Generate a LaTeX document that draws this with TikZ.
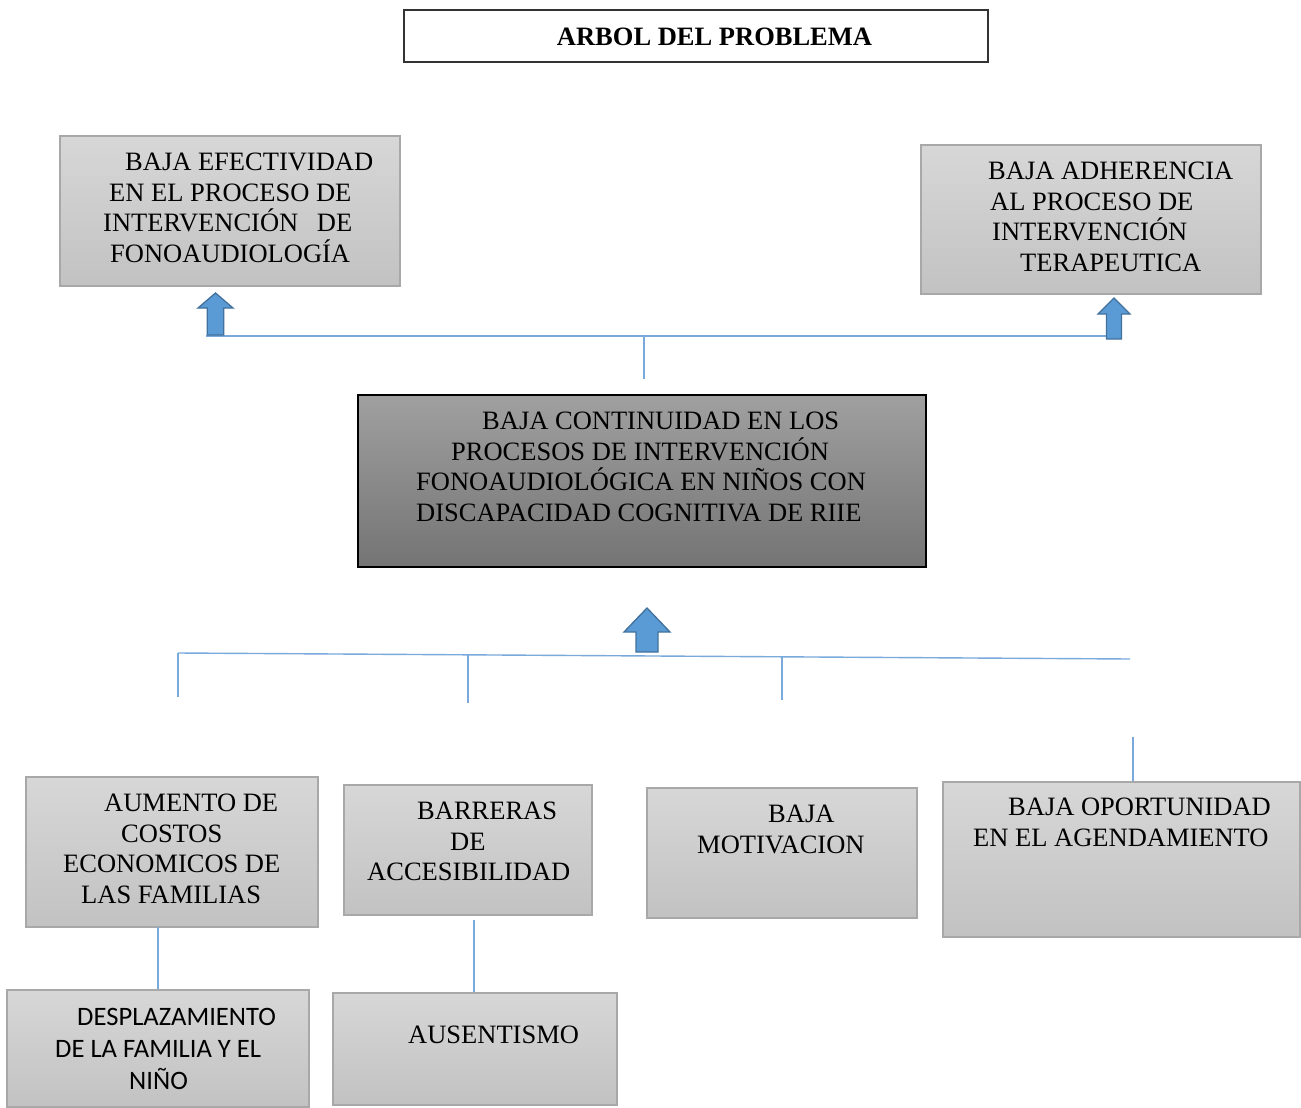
\documentclass[tikz,border=0pt]{standalone}
\usepackage{fontspec}
\setmainfont{Liberation Serif}
\newfontfamily\calib{Carlito}
\definecolor{boxtop}{HTML}{D7D7D7}
\definecolor{boxbot}{HTML}{C2C2C2}
\definecolor{boxedge}{HTML}{A8A8A8}
\definecolor{midtop}{HTML}{A0A0A0}
\definecolor{midbot}{HTML}{747474}
\definecolor{linkblue}{HTML}{7AAADC}
\definecolor{arrfill}{HTML}{5B9BD5}
\definecolor{arredge}{HTML}{41719C}
\tikzset{
  graybox/.style={draw=boxedge, line width=1.2pt, top color=boxtop, bottom color=boxbot, inner sep=0pt},
  midbox/.style={draw=black, line width=1.4pt, top color=midtop, bottom color=midbot, inner sep=0pt},
  titlebox/.style={draw=black!80, line width=1.2pt, fill=white, inner sep=0pt},
  txt/.style={inner sep=0pt, anchor=north west, align=left, font=\fontsize{26.5}{30.6}\selectfont},
  ctxt/.style={inner sep=0pt, anchor=north west, align=left, font=\calib\fontsize{26.6}{32}\selectfont},
  link/.style={draw=linkblue, line width=1.4pt},
  uparrow/.style={fill=arrfill, draw=arredge, line width=1.3pt, line join=miter}
}
\newcommand{\uparr}[5]{%
  \filldraw[uparrow] (#1,#2) -- (#1+#5,#3) -- (#1+#5/2-0.5,#3) -- (#1+#5/2-0.5,#4) -- (#1-#5/2+0.5,#4) -- (#1-#5/2+0.5,#3) -- (#1-#5,#3) -- cycle;}
\begin{document}
\begin{tikzpicture}[x=1pt,y=-1pt]
\useasboundingbox[fill=white] (0,0) rectangle (1301,1108);

% title
\node[titlebox, minimum width=584pt, minimum height=52pt] (title) at (696,36) {};
\node[inner sep=0pt, font=\bfseries\fontsize{26.5}{30}\selectfont] (titlet) at (714.5,37) {ARBOL DEL PROBLEMA};

% effects
\node[graybox, minimum width=340pt, minimum height=150pt] (e1) at (230,211) {};
\node[txt] (e1t) at (103,153) {\hspace*{22pt}BAJA EFECTIVIDAD\\\hspace*{6pt}EN EL PROCESO DE\\INTERVENCIÓN\hspace{12pt} DE\\\hspace*{7pt}FONOAUDIOLOGÍA};

\node[graybox, minimum width=340pt, minimum height=149pt] (e2) at (1091,219.5) {};
\node[txt] (e2t) at (988,162) {BAJA ADHERENCIA\\\hspace*{2pt}AL PROCESO DE\\\hspace*{4pt}INTERVENCIÓN\\\hspace*{32pt}TERAPEUTICA};

% central problem
\node[midbox, minimum width=568pt, minimum height=172pt] (mid) at (642,481) {};
\node[txt] (midt) at (416,412) {\hspace*{66pt}BAJA CONTINUIDAD EN LOS\\\hspace*{35pt}PROCESOS DE INTERVENCIÓN\\FONOAUDIOLÓGICA EN NIÑOS CON\\DISCAPACIDAD COGNITIVA DE RIIE};

% causes
\node[graybox, minimum width=292pt, minimum height=150pt] (c1) at (172,852) {};
\node[txt] (c1t) at (63,794) {\hspace*{41pt}AUMENTO DE\\\hspace*{58pt}COSTOS\\ECONOMICOS DE\\\hspace*{18pt}LAS FAMILIAS};

\node[graybox, minimum width=248pt, minimum height=130pt] (c2) at (468,850) {};
\node[txt] (c2t) at (367,802) {\hspace*{50pt}BARRERAS\\\hspace*{83pt}DE\\ACCESIBILIDAD};

\node[graybox, minimum width=270pt, minimum height=130pt] (c3) at (782,853) {};
\node[txt] (c3t) at (697,805) {\hspace*{71pt}BAJA\\MOTIVACION};

\node[graybox, minimum width=357pt, minimum height=155pt] (c4) at (1121.5,859.5) {};
\node[txt] (c4t) at (973,798) {\hspace*{35pt}BAJA OPORTUNIDAD\\EN EL AGENDAMIENTO};

% sub-causes
\node[graybox, minimum width=302pt, minimum height=117pt] (d1) at (158,1048.5) {};
\node[ctxt] (d1t) at (55,1008) {\hspace*{22pt}DESPLAZAMIENTO\\DE LA FAMILIA Y EL\\\hspace*{74pt}NIÑO};

\node[graybox, minimum width=284pt, minimum height=112pt] (d2) at (475,1049) {};
\node[txt] (d2t) at (408,1026) {AUSENTISMO};

% upper connectors
\coordinate (tl) at (206,336);
\coordinate (tr) at (1107,336);
\coordinate (tm) at (644,336);
\coordinate (tmend) at (644,379);
\draw[link] (tl) -- (tr);
\draw[link] (tm) -- (tmend);
\uparr{215.5}{293}{308}{335}{17.5}
\uparr{1114}{298}{314}{339}{16}

% lower connectors
\coordinate (bl) at (178,653);
\coordinate (br) at (1130,659);
\coordinate (b1) at (178,697);
\coordinate (b2a) at (468,654.8);
\coordinate (b2) at (468,703);
\coordinate (b3a) at (782,656.8);
\coordinate (b3) at (782,700);
\coordinate (b4) at (1133,737);
\draw[link] (bl) -- (br);
\draw[link] (bl) -- (b1);
\draw[link] (b2a) -- (b2);
\draw[link] (b3a) -- (b3);
\draw[link] (b4) -- (b4 |- c4.north);
\uparr{647}{608}{632}{652}{23}

% sub-cause links
\coordinate (s1) at (158,927);
\coordinate (s2) at (474,920);
\draw[link] (s1) -- (s1 |- d1.north);
\draw[link] (s2) -- (s2 |- d2.north);
\end{tikzpicture}
\end{document}
